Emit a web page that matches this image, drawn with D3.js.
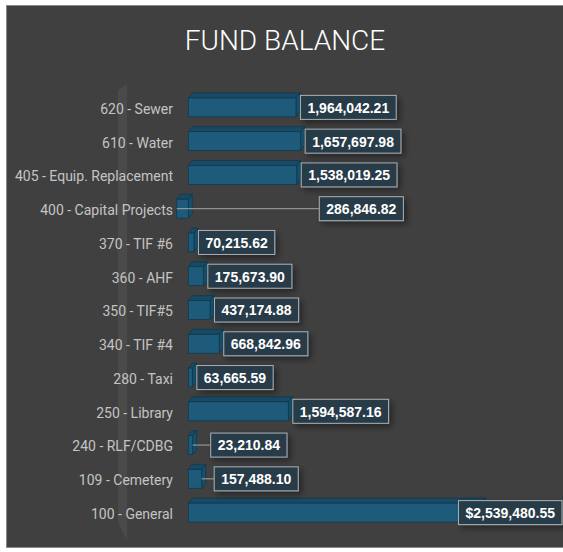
<!DOCTYPE html>
<html>
<head>
<meta charset="utf-8">
<script src="https://cdn.jsdelivr.net/npm/d3@7"></script>
<style>
  body { margin: 0; background: #ffffff; }
  svg { display: block; }
</style>
</head>
<body>
<div id="chart-container"></div>
<script>
// fund names, top to bottom
const funds = [
  "620 - Sewer", "610 - Water", "405 - Equip. Replacement", "400 - Capital Projects",
  "370 - TIF #6", "360 - AHF", "350 - TIF#5", "340 - TIF #4", "280 - Taxi",
  "250 - Library", "240 - RLF/CDBG", "109 - Cemetery", "100 - General"
];
// bar lengths as drawn
const barValues = [
  932000, 973000, 939000, -100000, 49000, 130000, 188000, 268000, 35000,
  866000, 38000, 116000, 2540000
];
// balances shown in the data labels
const balances = [
  1964042.21, 1657697.98, 1538019.25, 286846.82, 70215.62, 175673.90, 437174.88,
  668842.96, 63665.59, 1594587.16, 23210.84, 157488.10, 2539480.55
];
const dollarFunds = ["100 - General"];
const xTicks = [0, 2600000];

// labels that were dragged away from the bar end (px)
const labelNudge = {
  "400 - Capital Projects": 126.5,
  "240 - RLF/CDBG": 13.5,
  "109 - Cemetery": 8
};

const width = 563, height = 552;
const depth = { dx: 4, dy: 5 };

const data = funds.map((f, i) => ({ fund: f, bar: barValues[i], balance: balances[i] }));

const svg = d3.select("#chart-container")
  .append("svg")
  .attr("width", width)
  .attr("height", height);

const defs = svg.append("defs");
const shadow = defs.append("filter").attr("id", "shadow")
  .attr("x", "-30%").attr("y", "-40%").attr("width", "160%").attr("height", "200%");
shadow.append("feDropShadow")
  .attr("dx", 3).attr("dy", 3).attr("stdDeviation", 3)
  .attr("flood-color", "#000").attr("flood-opacity", 0.45);

// chart background
svg.append("rect")
  .attr("x", 6.5).attr("y", 5.5)
  .attr("width", width).attr("height", 542)
  .attr("fill", "#404040")
  .attr("stroke", "#8a8a8a");

svg.append("text")
  .attr("x", 285).attr("y", 50)
  .attr("text-anchor", "middle")
  .attr("fill", "#ffffff")
  .style("font-family", "Roboto, sans-serif")
  .style("font-weight", 300)
  .style("font-size", "28px")
  .text("FUND BALANCE");

// scales
const x = d3.scaleLinear().domain(xTicks).range([188.3, 188.3 + 2.6 * 115.5]);
const y = d3.scaleBand().domain(funds).range([90.5, 529.5]);
const barH = y.step() * 0.56;
const cy = d => y(d.fund) + y.step() / 2;

// back wall of the 3d plot
svg.append("polygon")
  .attr("points", [[118, 90], [127, 84], [127, 541], [118, 522]].join(" "))
  .attr("fill", "#4a4a4a");

// category axis labels
svg.append("g")
  .selectAll("text")
  .data(data)
  .enter()
  .append("text")
  .attr("x", 173)
  .attr("y", d => cy(d) + 1.5)
  .attr("dy", "0.35em")
  .attr("text-anchor", "end")
  .attr("fill", "#c4c4c4")
  .style("font-family", "Roboto, sans-serif")
  .style("font-size", "14px")
  .text(d => d.fund);

// 3d bars
const bars = svg.append("g")
  .selectAll("g")
  .data(data)
  .enter()
  .append("g");

const face = (d) => {
  const x0 = Math.min(x(0), x(d.bar)), x1 = Math.max(x(0), x(d.bar));
  const t = cy(d) - barH / 2, b = cy(d) + barH / 2;
  return { x0, x1, t, b };
};

bars.append("polygon")
  .attr("points", d => {
    const f = face(d);
    return [[f.x0, f.t], [f.x1, f.t], [f.x1 + depth.dx, f.t - depth.dy], [f.x0 + depth.dx, f.t - depth.dy]].join(" ");
  })
  .attr("fill", "#184a64")
  .attr("stroke", "#0f384d")
  .attr("stroke-width", 0.8);

bars.append("polygon")
  .attr("points", d => {
    const f = face(d);
    return [[f.x1, f.t], [f.x1 + depth.dx, f.t - depth.dy], [f.x1 + depth.dx, f.b - depth.dy], [f.x1, f.b]].join(" ");
  })
  .attr("fill", "#17506c")
  .attr("stroke", "#0f384d")
  .attr("stroke-width", 0.8);

bars.append("rect")
  .attr("x", d => face(d).x0)
  .attr("y", d => face(d).t)
  .attr("width", d => face(d).x1 - face(d).x0)
  .attr("height", barH)
  .attr("fill", "#1e5b7a")
  .attr("stroke", "#10394f")
  .attr("stroke-width", 0.8);

// data labels
const fmt = d3.format(",.2f");
const labels = svg.append("g")
  .selectAll("g")
  .data(data)
  .enter()
  .append("g");

labels.each(function (d) {
  const g = d3.select(this);
  const txt = (dollarFunds.includes(d.fund) ? "$" : "") + fmt(d.balance);
  const t = g.append("text")
    .attr("fill", "#ffffff")
    .attr("dy", "0.35em")
    .style("font-family", "'Liberation Sans', Arial, sans-serif")
    .style("font-weight", "bold")
    .style("font-size", "14px")
    .text(txt);
  const tw = t.node().getComputedTextLength();
  const bw = tw + 14, bh = 24;
  const nudge = labelNudge[d.fund] || 0;
  let bx = Math.max(x(0), x(d.bar)) + 4.5 + nudge;
  bx = Math.min(bx, width - 1 - bw);
  const by = cy(d) - bh / 2;
  if (nudge) {
    g.append("line")
      .attr("x1", x(d.bar)).attr("y1", cy(d))
      .attr("x2", bx).attr("y2", cy(d))
      .attr("stroke", "#a6a6a6")
      .attr("stroke-width", 1);
  }
  g.append("rect")
    .attr("x", bx).attr("y", by)
    .attr("width", bw).attr("height", bh)
    .attr("fill", "#283b49")
    .attr("fill-opacity", 0.96)
    .attr("stroke", "#a9b0b6")
    .attr("stroke-width", 1)
    .attr("filter", "url(#shadow)");
  t.attr("x", bx + 7).attr("y", cy(d) + 0.5).raise();
});
</script>
</body>
</html>
